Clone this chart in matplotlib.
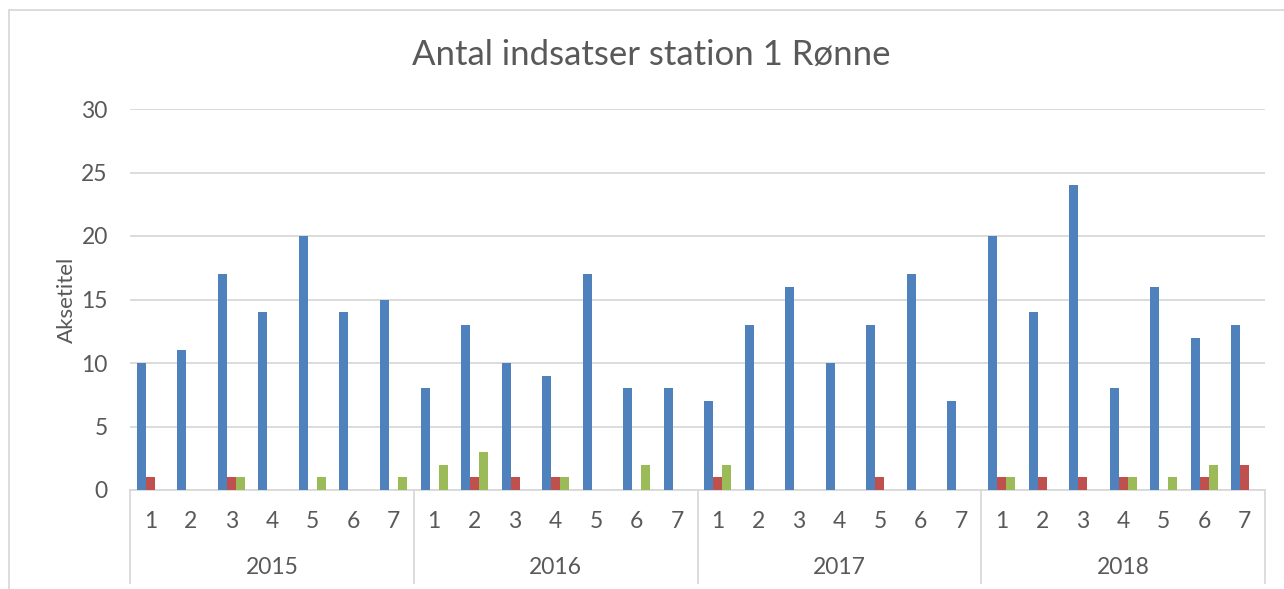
import numpy as np
from matplotlib import pyplot as plt
import matplotlib

matplotlib.rc('font', family=['Lato', 'DejaVu Sans'])

years = ["2015", "2016", "2017", "2018"]
months = ["1", "2", "3", "4", "5", "6", "7"]

blue = [10, 11, 17, 14, 20, 14, 15,
        8, 13, 10, 9, 17, 8, 8,
        7, 13, 16, 10, 13, 17, 7,
        20, 14, 24, 8, 16, 12, 13]
red = [1, 0, 1, 0, 0, 0, 0,
       0, 1, 1, 1, 0, 0, 0,
       1, 0, 0, 0, 1, 0, 0,
       1, 1, 1, 1, 0, 1, 2]
green = [0, 0, 1, 0, 1, 0, 1,
         2, 3, 0, 1, 0, 2, 0,
         2, 0, 0, 0, 0, 0, 0,
         1, 0, 0, 1, 1, 2, 0]

txt = '#595959'
W, H = 1284, 589
fig = plt.figure(figsize=(W / 100, H / 100), dpi=100)
ax = fig.add_axes([130 / W, 1 - 490 / H, 1135 / W, 381 / H])

n = len(blue)
x = np.arange(n)
bw = 1 / 4.5
ax.bar(x - bw, blue, bw, color='#4F81BD', zorder=3)
ax.bar(x, red, bw, color='#C0504D', zorder=3)
ax.bar(x + bw, green, bw, color='#9BBB59', zorder=3)

ax.set_xlim(-0.5, n - 0.5)
ax.set_ylim(0, 30)
ax.set_yticks(range(0, 31, 5))
ax.yaxis.grid(True, color='#D9D9D9', lw=1.3, zorder=0)
for s in ['top', 'right', 'left']:
    ax.spines[s].set_visible(False)
ax.spines['bottom'].set_color('#D9D9D9')
ax.spines['bottom'].set_linewidth(1.3)
ax.tick_params(axis='y', length=0, pad=16, labelsize=16.5, labelcolor=txt)
ax.set_xticks([])
ax.set_ylabel("Aksetitel", fontsize=16, color=txt, labelpad=3)

# kategori-akse i to niveauer
trans = ax.get_xaxis_transform()
for i in range(n):
    ax.text(x[i], -31 / 381, months[i % 7], transform=trans, ha='center', va='center',
            fontsize=16.5, color=txt)
for k, yr in enumerate(years):
    ax.text(k * 7 + 3, -78 / 381, yr, transform=trans, ha='center', va='center',
            fontsize=16.5, color=txt)
for k in range(len(years) + 1):
    ax.plot([k * 7 - 0.5] * 2, [0, -93 / 381], transform=trans, color='#D9D9D9',
            lw=1.3, clip_on=False)

fig.text(651 / W, 1 - 55 / H, "Antal indsatser station 1 Rønne", ha='center', va='center',
         fontsize=25, color=txt)

# ramme
fig.add_artist(plt.Rectangle((9 / W, -0.05), 1.1, 1 - 10 / H + 0.05, transform=fig.transFigure,
                             fill=False, edgecolor='#D9D9D9', lw=1.3))

plt.savefig("out.png", dpi=100)
